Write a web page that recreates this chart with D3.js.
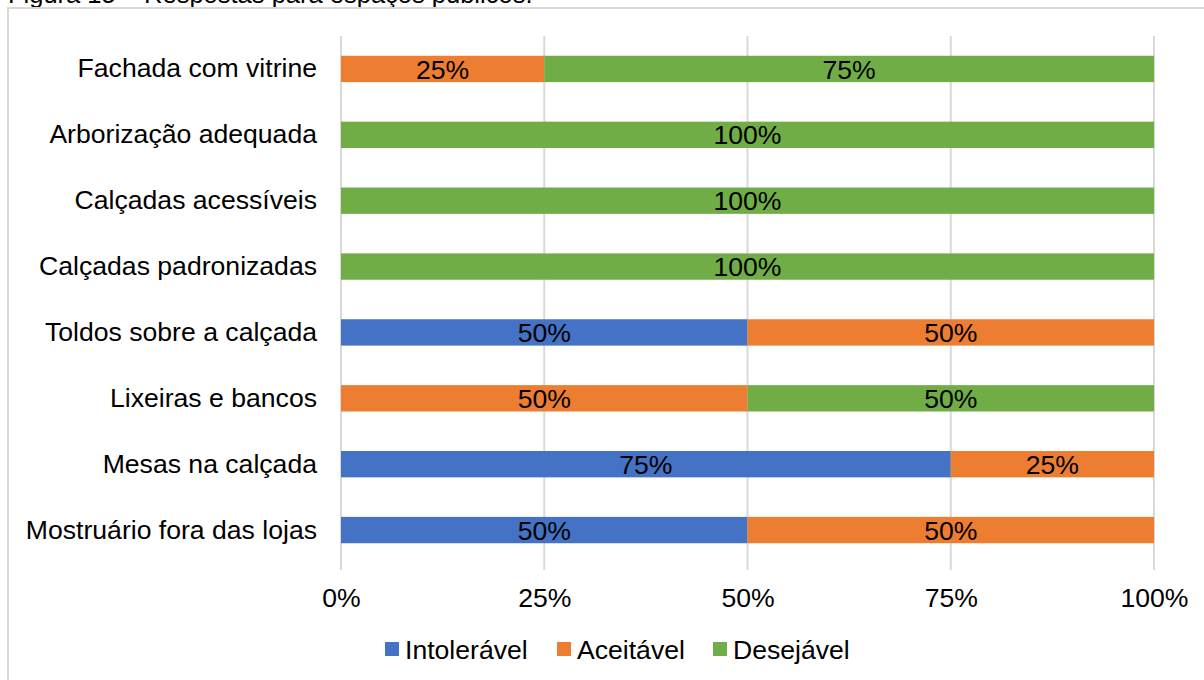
<!DOCTYPE html>
<html>
<head>
<meta charset="utf-8">
<script src="https://cdn.jsdelivr.net/npm/d3@7"></script>
<style>
  html, body { margin: 0; padding: 0; background: #fff; }
  svg { display: block; font-family: "Liberation Sans", Arial, sans-serif; }
</style>
</head>
<body>
<svg id="chart" width="1204" height="680"></svg>
<script>
// Survey answers per street element (percent of respondents)
const categories = [
  "Fachada com vitrine",
  "Arborização adequada",
  "Calçadas acessíveis",
  "Calçadas padronizadas",
  "Toldos sobre a calçada",
  "Lixeiras e bancos",
  "Mesas na calçada",
  "Mostruário fora das lojas"
];
const seriesNames = ["Intolerável", "Aceitável", "Desejável"];
const intoleravel = [0, 0, 0, 0, 50, 0, 75, 50];
const aceitavel   = [25, 0, 0, 0, 50, 50, 25, 50];
const desejavel   = [75, 100, 100, 100, 0, 50, 0, 0];
const tickValues  = [0, 25, 50, 75, 100];
const colors = ["#4472C4", "#ED7D31", "#70AD47"];

const FONT = 26.6;
const svg = d3.select("#chart");

// caption line above the frame (runs off the top edge of the page)
svg.append("text")
  .attr("x", 8).attr("y", 3)
  .attr("font-size", 25.5).attr("fill", "#000")
  .text("Figura 15 – Respostas para espaços públicos.");

// chart frame
svg.append("rect")
  .attr("x", 8).attr("y", 8)
  .attr("width", 1220).attr("height", 700)
  .attr("fill", "#fff").attr("stroke", "#d9d9d9").attr("stroke-width", 2);

const rows = categories.map((c, i) => ({
  cat: c,
  "Intolerável": intoleravel[i],
  "Aceitável": aceitavel[i],
  "Desejável": desejavel[i]
}));

const x = d3.scaleLinear().domain([0, 100]).range([341, 1154]);
const y = d3.scaleBand().domain(categories).range([36, 563]).paddingInner(0.6).paddingOuter(0.3);

// vertical gridlines
svg.append("g")
  .selectAll("line")
  .data(tickValues)
  .join("line")
  .attr("x1", d => x(d)).attr("x2", d => x(d))
  .attr("y1", 36).attr("y2", 570)
  .attr("stroke", "#d9d9d9").attr("stroke-width", 2);

const stack = d3.stack().keys(seriesNames)(rows);

const layers = svg.append("g")
  .selectAll("g")
  .data(stack)
  .join("g")
  .attr("fill", (d, i) => colors[i]);

layers.selectAll("rect")
  .data(d => d.filter(s => s[1] - s[0] > 0))
  .join("rect")
  .attr("x", d => x(d[0]))
  .attr("width", d => x(d[1]) - x(d[0]))
  .attr("y", d => y(d.data.cat))
  .attr("height", y.bandwidth());

// value labels inside segments
layers.selectAll("text")
  .data(d => d.filter(s => s[1] - s[0] > 0))
  .join("text")
  .attr("x", d => (x(d[0]) + x(d[1])) / 2)
  .attr("y", d => y(d.data.cat) + y.bandwidth() / 2)
  .attr("dy", "0.36em")
  .attr("text-anchor", "middle")
  .attr("font-size", FONT)
  .attr("fill", "#000")
  .text(d => (d[1] - d[0]) + "%");

// category axis
const yAxis = svg.append("g")
  .attr("transform", "translate(341,0)")
  .call(d3.axisLeft(y).tickSize(0).tickPadding(24));
yAxis.select(".domain").remove();
yAxis.selectAll("text").attr("font-size", FONT).attr("fill", "#000")
  .attr("font-family", "Liberation Sans, Arial, sans-serif");

// value axis
const xAxis = svg.append("g")
  .attr("transform", "translate(0,580)")
  .call(d3.axisBottom(x).tickValues(tickValues).tickSize(0).tickPadding(8).tickFormat(d => d + "%"));
xAxis.select(".domain").remove();
xAxis.selectAll("text").attr("font-size", FONT).attr("fill", "#000")
  .attr("font-family", "Liberation Sans, Arial, sans-serif");

// legend
const legendX = [385, 557, 713];
const legend = svg.append("g")
  .selectAll("g")
  .data(seriesNames)
  .join("g")
  .attr("transform", (d, i) => `translate(${legendX[i]},642)`);
legend.append("rect")
  .attr("width", 14).attr("height", 14)
  .attr("fill", (d, i) => colors[i]);
legend.append("text")
  .attr("x", 20).attr("y", 7).attr("dy", "0.36em")
  .attr("font-size", FONT).attr("fill", "#000")
  .text(d => d);
</script>
</body>
</html>
